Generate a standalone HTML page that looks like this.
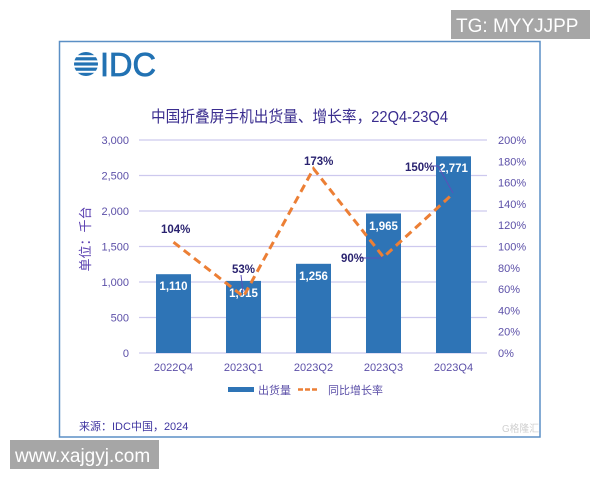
<!DOCTYPE html>
<html><head><meta charset="utf-8"><style>
html,body{margin:0;padding:0;background:#fff;}
svg{display:block;}
text{font-family:"Liberation Sans","Noto Sans CJK SC",sans-serif;}
</style></head><body>
<svg width="600" height="480" viewBox="0 0 600 480" xmlns="http://www.w3.org/2000/svg">
<rect x="0" y="0" width="600" height="480" fill="#fff"/>
<!-- frame -->
<rect x="59.5" y="41.5" width="480.5" height="395.5" fill="#fff" stroke="#5b8fc5" stroke-width="1.5"/>
<!-- TG box -->
<rect x="451" y="10" width="139" height="29" fill="#a6a6a6"/>
<text x="456" y="32" font-size="19" fill="#fff">TG: MYYJJPP</text>
<!-- www box -->
<rect x="10" y="440" width="149" height="29" fill="#a6a6a6"/>
<text x="15" y="462" font-size="19" fill="#fff">www.xajgyj.com</text>
<!-- IDC logo -->
<g fill="#2272b3">
  <clipPath id="gc"><circle cx="86" cy="64" r="12"/></clipPath>
  <g clip-path="url(#gc)">
    <rect x="72" y="52" width="28" height="3.2"/>
    <rect x="72" y="57.2" width="28" height="3.2"/>
    <rect x="72" y="62.4" width="28" height="3.2"/>
    <rect x="72" y="67.6" width="28" height="3.2"/>
    <rect x="72" y="72.8" width="28" height="3.2"/>
  </g>
  <text x="100" y="76" font-size="33" fill="#2272b3" textLength="56" lengthAdjust="spacingAndGlyphs" stroke="#2272b3" stroke-width="0.8">IDC</text>
</g>
<!-- title -->
<text x="151" y="122" font-size="16" fill="#3a2d8f" textLength="297" lengthAdjust="spacingAndGlyphs">中国折叠屏手机出货量、增长率，22Q4-23Q4</text>
<!-- gridlines -->
<g stroke="#cdc9ee" stroke-width="1.2">
  <line x1="139" y1="140" x2="487" y2="140"/>
  <line x1="139" y1="175.5" x2="487" y2="175.5"/>
  <line x1="139" y1="211" x2="487" y2="211"/>
  <line x1="139" y1="246.5" x2="487" y2="246.5"/>
  <line x1="139" y1="282" x2="487" y2="282"/>
  <line x1="139" y1="317.5" x2="487" y2="317.5"/>
  <line x1="139" y1="353" x2="487" y2="353"/>
</g>
<!-- left tick labels -->
<g font-size="11" fill="#5c50a8" text-anchor="end">
  <text x="129" y="144">3,000</text>
  <text x="129" y="179.5">2,500</text>
  <text x="129" y="215">2,000</text>
  <text x="129" y="250.5">1,500</text>
  <text x="129" y="286">1,000</text>
  <text x="129" y="321.5">500</text>
  <text x="129" y="357">0</text>
</g>
<!-- right tick labels -->
<g font-size="11" fill="#5c50a8">
  <text x="498" y="144">200%</text>
  <text x="498" y="165.3">180%</text>
  <text x="498" y="186.6">160%</text>
  <text x="498" y="207.9">140%</text>
  <text x="498" y="229.2">120%</text>
  <text x="498" y="250.5">100%</text>
  <text x="498" y="271.8">80%</text>
  <text x="498" y="293.1">60%</text>
  <text x="498" y="314.4">40%</text>
  <text x="498" y="335.7">20%</text>
  <text x="498" y="357">0%</text>
</g>
<!-- y axis title -->
<text x="0" y="0" font-size="13" fill="#5a3fb0" transform="translate(90,239) rotate(-90)" text-anchor="middle">单位：千台</text>
<!-- bars -->
<g fill="#2e74b6">
  <rect x="156" y="274.2" width="35" height="78.8"/>
  <rect x="226" y="280.9" width="35" height="72.1"/>
  <rect x="296" y="263.8" width="35" height="89.2"/>
  <rect x="366" y="213.5" width="35" height="139.5"/>
  <rect x="436" y="156.3" width="35" height="196.7"/>
</g>
<!-- bar value labels -->
<g font-size="11.5" font-weight="bold" fill="#fff" text-anchor="middle">
  <text x="173.5" y="290">1,110</text>
  <text x="243.5" y="297">1,015</text>
  <text x="313.5" y="280">1,256</text>
  <text x="383.5" y="230">1,965</text>
  <text x="453.5" y="172">2,771</text>
</g>
<!-- leader lines -->
<g stroke="#5c50b8" stroke-width="1" fill="none">
  <line x1="241" y1="275" x2="243" y2="292"/>
  <line x1="361" y1="258" x2="383" y2="258"/>
  <polyline points="431,166 438,166 453,193"/>
</g>
<!-- growth line -->
<polyline points="173.5,242.2 243.5,296.6 313.5,168.7 383.5,257.1 453.5,193.2" fill="none" stroke="#ec7f35" stroke-width="3" stroke-dasharray="8,5"/>
<!-- percentage labels -->
<g font-size="11.5" font-weight="bold" fill="#2a2370">
  <text x="161" y="233">104%</text>
  <text x="232" y="273">53%</text>
  <text x="304" y="165">173%</text>
  <text x="341" y="262">90%</text>
  <text x="405" y="171">150%</text>
</g>
<!-- x labels -->
<g font-size="11" fill="#5c50a8" text-anchor="middle">
  <text x="173.5" y="371">2022Q4</text>
  <text x="243.5" y="371">2023Q1</text>
  <text x="313.5" y="371">2023Q2</text>
  <text x="383.5" y="371">2023Q3</text>
  <text x="453.5" y="371">2023Q4</text>
</g>
<!-- legend -->
<rect x="228" y="387" width="26" height="5" fill="#2e74b6"/>
<text x="258" y="394" font-size="11" fill="#5c50a8">出货量</text>
<line x1="298" y1="389.5" x2="317" y2="389.5" stroke="#ec7f35" stroke-width="2.5" stroke-dasharray="5,2"/>
<text x="328" y="394" font-size="11" fill="#5c50a8">同比增长率</text>
<!-- source -->
<text x="79" y="430" font-size="11" fill="#3f35a0">来源：IDC中国，2024</text>
<!-- watermark -->
<text x="502" y="432" font-size="10" fill="#d0d0d0" textLength="37" lengthAdjust="spacingAndGlyphs">G格隆汇</text>
</svg>
</body></html>
